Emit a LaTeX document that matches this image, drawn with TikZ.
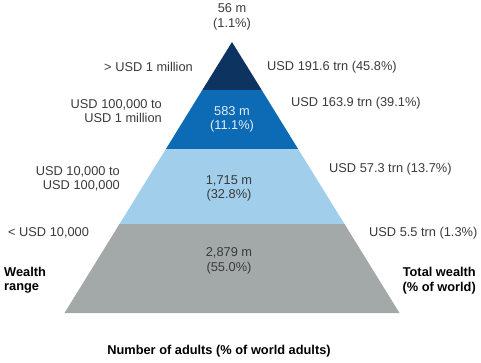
\documentclass[tikz,border=0pt]{standalone}
\usepackage{fontspec}
\setmainfont{Liberation Sans}
\begin{document}
\begin{tikzpicture}[x=1pt,y=-1pt,
  lbl/.style={inner sep=0pt,text=txt,font=\fontsize{12.8}{14.5}\selectfont},
  lblw/.style={lbl,text=txtw},
  bold/.style={inner sep=0pt,text=black,font=\fontsize{12.8}{14.5}\selectfont\bfseries}]
\definecolor{navy}{HTML}{0D3461}
\definecolor{midblue}{HTML}{0D6AB5}
\definecolor{lightblue}{HTML}{A1CEEB}
\definecolor{grayband}{HTML}{A3A9A9}
\definecolor{txt}{HTML}{3A3A3A}
\definecolor{txtw}{HTML}{E6EEF6}
\useasboundingbox (0,0) rectangle (481,362);
% pyramid bands
\fill[navy] (232,42) -- (261.7,90) -- (202.3,90) -- cycle;
\fill[midblue] (202.3,90) -- (261.7,90) -- (298.1,149) -- (165.9,149) -- cycle;
\fill[lightblue] (165.9,149) -- (298.1,149) -- (344.5,224) -- (119.5,224) -- cycle;
\fill[grayband] (119.5,224) -- (344.5,224) -- (399.5,313) -- (64.5,313) -- cycle;
% top label
\node[lbl,align=center] (top) at (232,17) {56 m\\(1.1\%)};
% inner labels
\node[lblw,align=center] (b2) at (232,119.5) {583 m\\(11.1\%)};
\node[lbl,align=center] (b3) at (229,188.5) {1,715 m\\(32.8\%)};
\node[lbl,align=center] (b4) at (229,261) {2,879 m\\(55.0\%)};
% left labels
\node[lbl,anchor=east] (l1) at (193,67) {> USD 1 million};
\node[lbl,anchor=east,align=right] (l2) at (162,111) {USD 100,000 to\\USD 1 million};
\node[lbl,anchor=east,align=right] (l3) at (120,179) {USD 10,000 to\\USD 100,000};
\node[lbl,anchor=west] (l4) at (8,233) {< USD 10,000};
% right labels
\node[lbl,anchor=west] (r1) at (267,67) {USD 191.6 trn (45.8\%)};
\node[lbl,anchor=west] (r2) at (291,103) {USD 163.9 trn (39.1\%)};
\node[lbl,anchor=west] (r3) at (329,169) {USD 57.3 trn (13.7\%)};
\node[lbl,anchor=west] (r4) at (369,233) {USD 5.5 trn (1.3\%)};
% axis titles
\node[bold,anchor=west,align=left] (wr) at (4,280) {Wealth\\range};
\node[bold,anchor=east,align=right] (tw) at (476,280.5) {Total wealth\\(\% of world)};
\node[bold] (na) at (219,351) {Number of adults (\% of world adults)};
\end{tikzpicture}
\end{document}
